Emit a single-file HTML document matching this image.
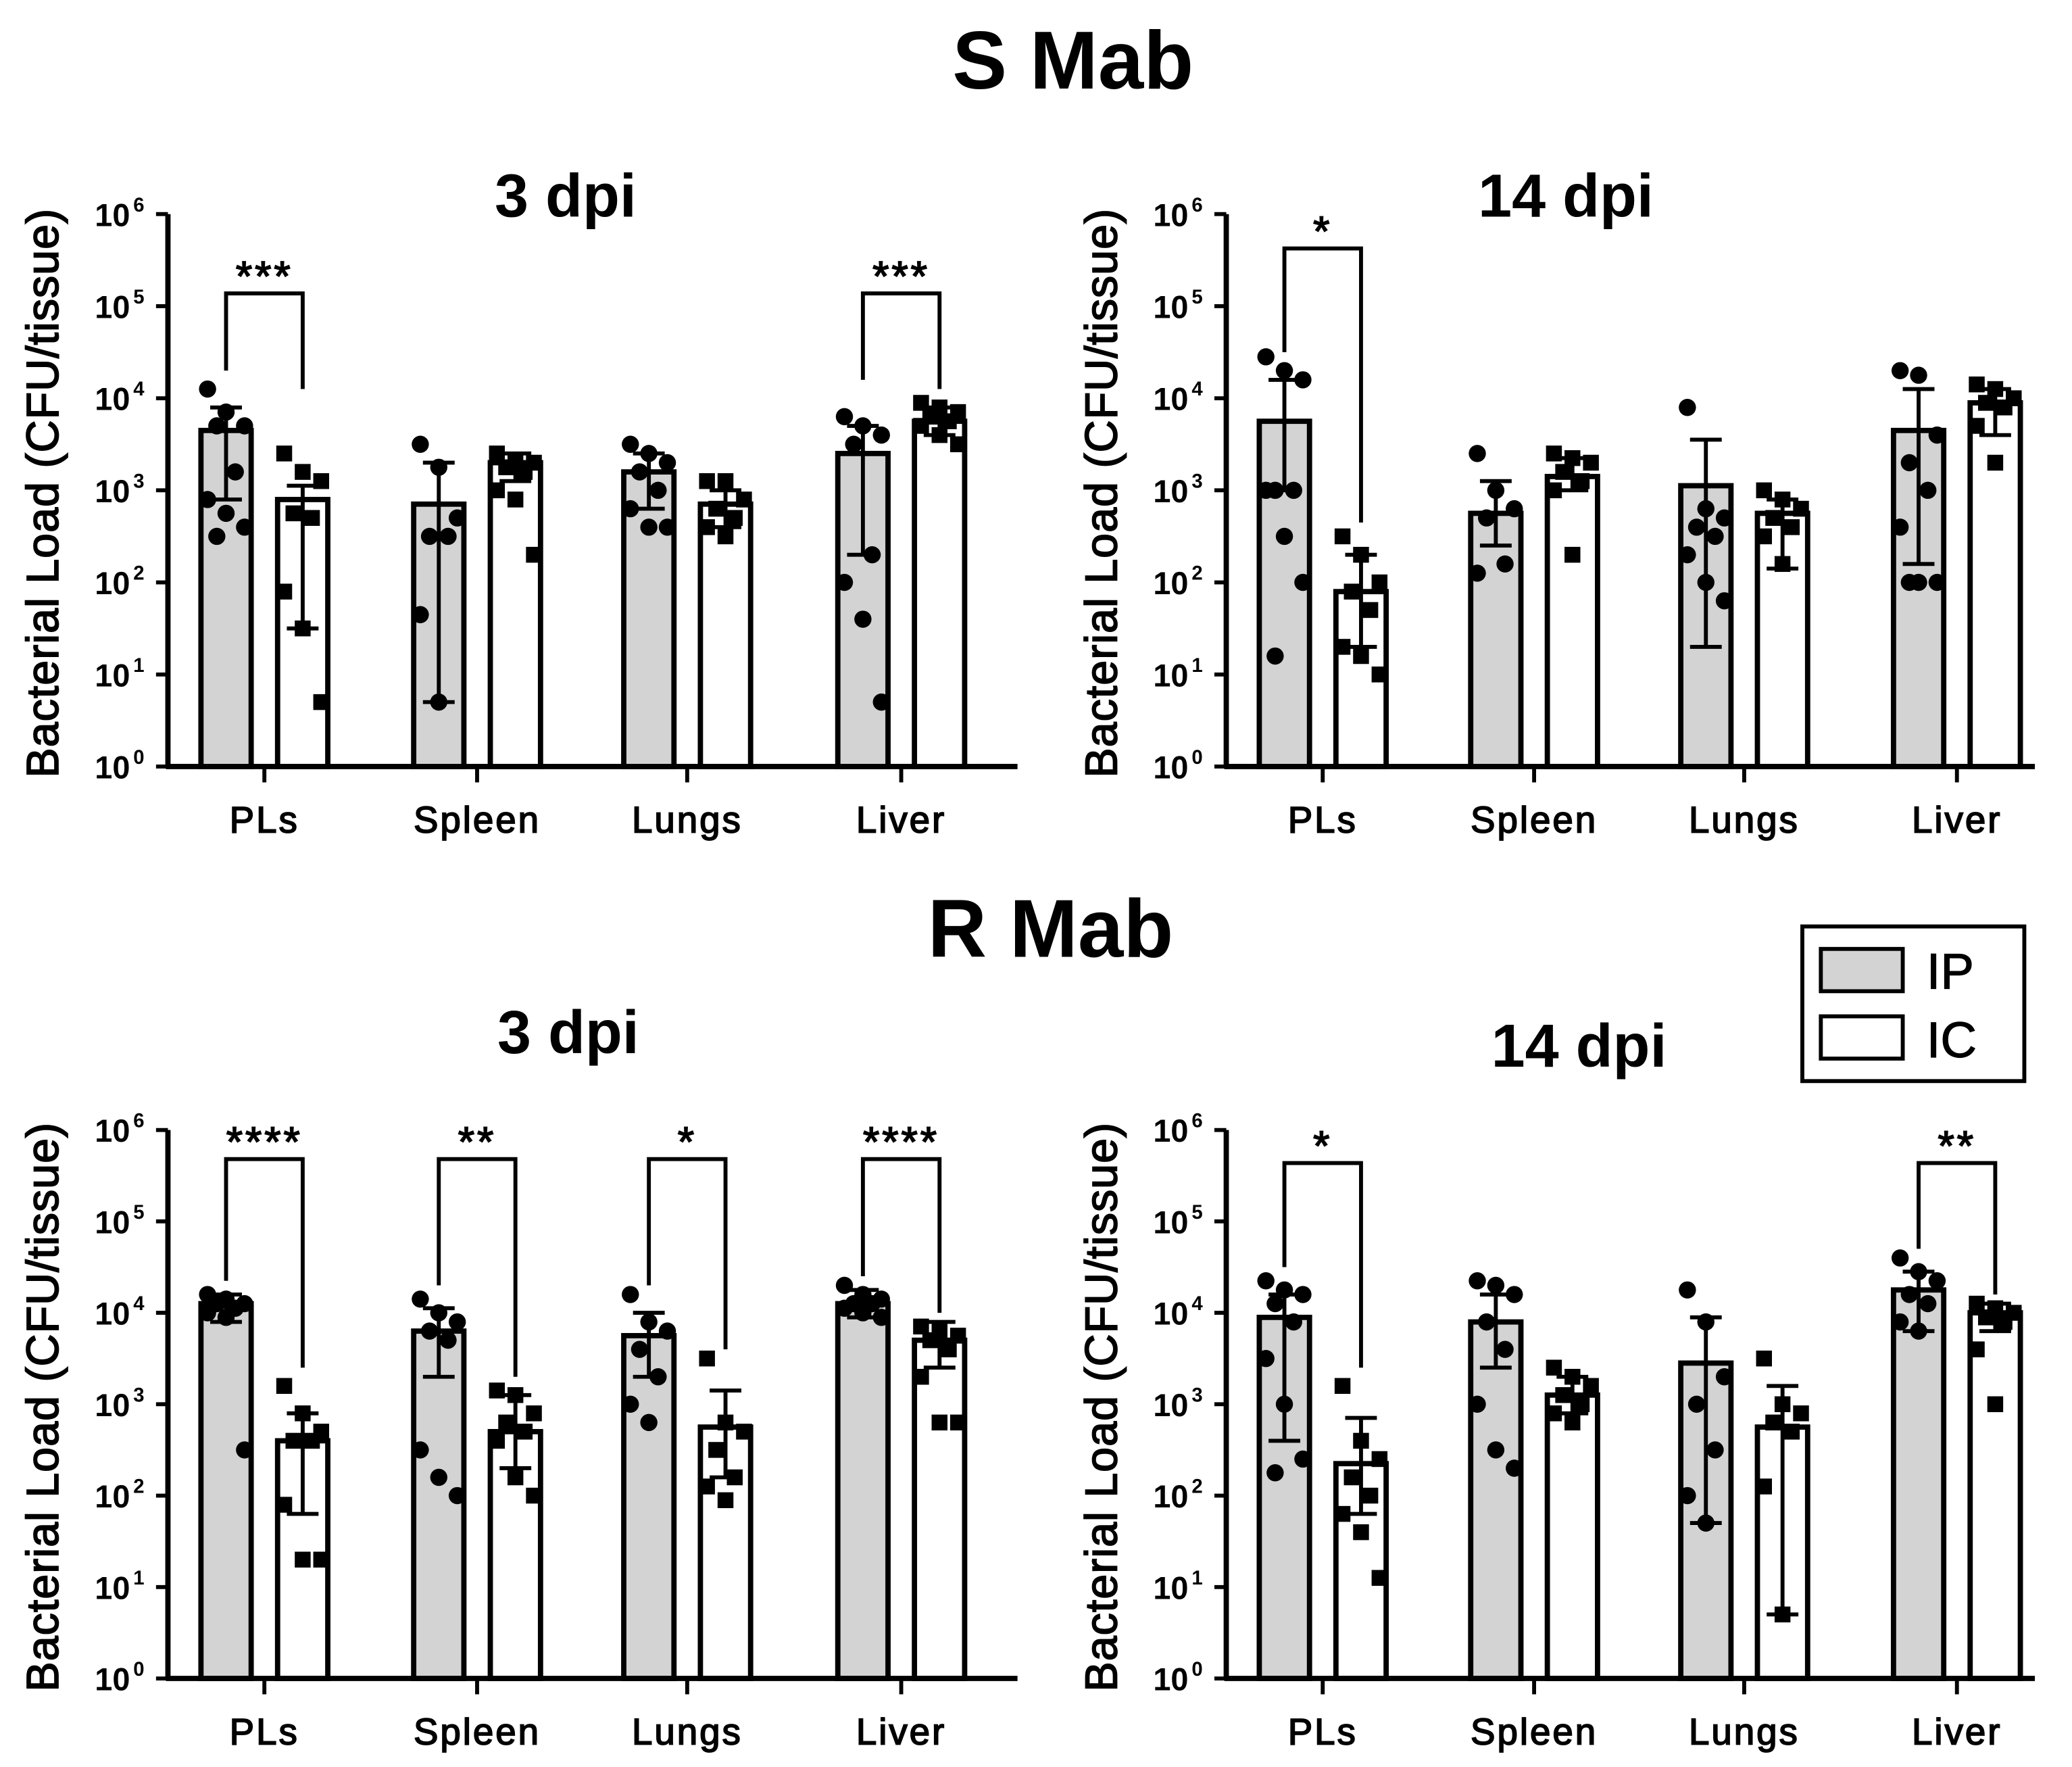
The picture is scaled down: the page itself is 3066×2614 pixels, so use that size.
<!DOCTYPE html>
<html><head><meta charset="utf-8"><style>
html,body{margin:0;padding:0;background:#fff;}
svg{display:block;}
text{font-family:"Liberation Sans",Arial,sans-serif;fill:#000;}
.h{stroke:#000;stroke-width:0.9;}
</style></head><body>
<svg id="s" width="3066" height="2614" viewBox="0 0 1568 1337" xmlns="http://www.w3.org/2000/svg">
<rect width="1568" height="1337" fill="#fff"/>
<text x="812" y="67" font-size="62" font-weight="bold" text-anchor="middle">S Mab</text>
<text x="795" y="724" font-size="62" font-weight="bold" text-anchor="middle">R Mab</text>
<rect x="1364" y="701" width="168" height="117" fill="#fff" stroke="#000" stroke-width="3"/>
<rect x="1378" y="718" width="62" height="32" fill="#d3d3d3" stroke="#000" stroke-width="3"/>
<rect x="1378" y="769" width="62" height="32" fill="#fff" stroke="#000" stroke-width="3"/>
<text x="1458" y="748" font-size="38" class="h" style="stroke-width:0.6">IP</text>
<text x="1458" y="800" font-size="38" class="h" style="stroke-width:0.6">IC</text>
</svg>
<script>
const S=document.getElementById('s');const NS='http://www.w3.org/2000/svg';
function el(t,a,txt){const e=document.createElementNS(NS,t);for(const k in a)e.setAttribute(k,a[k]);if(txt!==undefined)e.textContent=txt;S.appendChild(e);return e;}
function panel(P){
 const y0=P.y0,y6=P.y6,ax=P.ax,d=(y0-y6)/6;const Y=v=>y0-v*d;
 el('text',{x:P.tx,y:P.ty,'font-size':46,'font-weight':'bold','text-anchor':'middle'},P.title);
 const ly=(y0+y6)/2+2;
 el('text',{x:0,y:0,'font-size':34,'text-anchor':'middle',class:'h','letter-spacing':'0.5',transform:`translate(${P.lx},${ly}) rotate(-90)`},'Bacterial Load (CFU/tissue)');
 for(let i=0;i<=6;i++){const y=Y(i);el('line',{x1:ax-9,x2:ax,y1:y,y2:y,stroke:'#000','stroke-width':3});
  el('text',{x:ax-42,y:y+9,'font-size':24,'font-weight':'bold','text-anchor':'middle'},'10');
  el('text',{x:ax-22,y:y-2,'font-size':15,'font-weight':'bold','text-anchor':'middle'},String(i));}
 const names=['PLs','Spleen','Lungs','Liver'];
 P.groups.forEach((g,gi)=>{const cx=P.cx[gi];
  el('line',{x1:cx,x2:cx,y1:y0,y2:y0+12,stroke:'#000','stroke-width':3});
  el('text',{x:cx,y:y0+50,'font-size':28,'text-anchor':'middle','letter-spacing':'1.5',class:'h'},names[gi]);
  [[g[0],-29,'#d3d3d3',0],[g[1],29,'#fff',1]].forEach(([b,off,fill,sq])=>{const bx=cx+off;
   el('rect',{x:bx-19,y:Y(b[0]),width:38,height:y0-Y(b[0]),fill:fill,stroke:'#000','stroke-width':4});
   el('line',{x1:bx,x2:bx,y1:Y(b[1]),y2:Y(b[2]),stroke:'#000','stroke-width':3});
   [b[1],b[2]].forEach(v=>el('line',{x1:bx-12,x2:bx+12,y1:Y(v),y2:Y(v),stroke:'#000','stroke-width':3}));
   const pts=b[3];pts.forEach((v,i)=>{const dx=((i*7)%5-2)*7;const px=bx+dx,py=Y(v);
    if(sq)el('rect',{x:px-6,y:py-6,width:12,height:12,fill:'#000'});else el('circle',{cx:px,cy:py,r:6.5,fill:'#000'});});
  });
  const s=P.sig[gi];if(s){const by=s[1];const l=cx-29,r=cx+29;
   el('polyline',{points:`${l},${Y(s[2])} ${l},${by} ${r},${by} ${r},${Y(s[3])}`,fill:'none',stroke:'#000','stroke-width':3});
   el('text',{x:cx,y:by-2,'font-size':32,'text-anchor':'middle','letter-spacing':'2',class:'h'},s[0]);}
 });
 el('line',{x1:ax,x2:ax,y1:y6,y2:y0+1.5,stroke:'#000','stroke-width':4});
 el('line',{x1:ax-1.5,x2:P.axe,y1:y0,y2:y0,stroke:'#000','stroke-width':4});
}
panel({title:'3 dpi',tx:428,ty:164,lx:44,y0:580,y6:162,ax:127,axe:770,cx:[200,361,520,682],
 groups:[
 [[3.65,2.9,3.9,[4.1,3.85,3.7,3.7,3.2,2.9,2.75,2.6,2.5]],[2.9,1.5,3.05,[3.4,3.2,3.1,2.75,2.7,1.9,1.5,0.7]]],
 [[2.85,0.7,3.3,[3.5,3.25,2.7,2.5,2.5,1.65,0.7]],[3.3,3.1,3.4,[3.4,3.3,3.3,3.25,3.2,3.0,2.9,2.3]]],
 [[3.2,2.8,3.4,[3.5,3.4,3.3,3.2,3.0,2.8,2.6,2.6]],[2.85,2.6,3.0,[3.1,3.1,2.9,2.8,2.7,2.6,2.5]]],
 [[3.4,2.3,3.7,[3.8,3.7,3.6,3.5,2.3,2.0,1.6,0.7]],[3.75,3.6,3.9,[3.95,3.9,3.85,3.8,3.75,3.7,3.6,3.5]]]],
 sig:[['***',222,4.3,4.1],null,null,['***',222,4.2,4.1]]});
panel({title:'14 dpi',tx:1185,ty:164,lx:845,y0:580,y6:162,ax:928,axe:1540,cx:[1001,1161,1320,1481],
 groups:[
 [[3.75,3.0,4.2,[4.45,4.3,4.2,3.0,3.0,3.0,2.5,2.0,1.2]],[1.9,1.3,2.3,[2.5,2.3,2.0,1.9,1.7,1.3,1.2,1.0]]],
 [[2.75,2.4,3.1,[3.4,3.0,2.8,2.7,2.2,2.1]],[3.15,3.0,3.35,[3.4,3.35,3.3,3.2,3.1,3.0,2.3]]],
 [[3.05,1.3,3.55,[3.9,2.8,2.7,2.6,2.5,2.3,2.0,1.8]],[2.75,2.15,2.9,[3.0,2.9,2.8,2.7,2.6,2.5,2.2]]],
 [[3.65,2.2,4.1,[4.3,4.25,3.6,3.3,3.0,2.6,2.0,2.0,2.0]],[3.95,3.6,4.1,[4.15,4.1,4.0,3.95,3.9,3.7,3.3]]]],
 sig:[['*',188,4.5,2.65],null,null,null]});
panel({title:'3 dpi',tx:430,ty:797,lx:44,y0:1270,y6:855,ax:127,axe:770,cx:[200,361,520,682],
 groups:[
 [[4.1,3.9,4.2,[4.2,4.15,4.1,4.1,4.05,4.0,3.95,2.5]],[2.6,1.8,2.9,[3.2,2.9,2.7,2.6,2.6,1.9,1.3,1.3]]],
 [[3.8,3.3,4.05,[4.15,4.0,3.9,3.8,3.7,2.5,2.2,2.0]],[2.7,2.3,3.1,[3.15,3.1,2.9,2.8,2.7,2.6,2.2,2.0]]],
 [[3.75,3.3,4.0,[4.2,3.9,3.8,3.6,3.3,3.0,2.8]],[2.75,2.2,3.15,[3.5,2.8,2.7,2.5,2.2,2.1,1.95]]],
 [[4.1,3.95,4.25,[4.3,4.2,4.15,4.1,4.1,4.05,4.0,3.95]],[3.7,3.4,3.9,[3.85,3.8,3.75,3.7,3.6,3.3,2.8,2.8]]]],
 sig:[['****',877,4.35,3.4],['**',877,4.3,3.3],['*',877,4.3,3.6],['****',877,4.4,4.0]]});
panel({title:'14 dpi',tx:1195,ty:807,lx:845,y0:1270,y6:855,ax:928,axe:1540,cx:[1001,1161,1320,1481],
 groups:[
 [[3.95,2.6,4.2,[4.35,4.25,4.2,4.1,3.9,3.5,3.0,2.4,2.25]],[2.35,1.8,2.85,[3.2,2.6,2.4,2.2,2.0,1.8,1.6,1.1]]],
 [[3.9,3.4,4.2,[4.35,4.3,4.2,3.9,3.6,3.0,2.5,2.3]],[3.1,2.9,3.3,[3.4,3.3,3.2,3.1,3.0,2.9,2.8]]],
 [[3.45,1.7,3.95,[4.25,3.9,3.3,3.0,2.5,2.0,1.7]],[2.75,0.7,3.2,[3.5,3.0,2.9,2.8,2.7,2.1,0.7]]],
 [[4.25,3.8,4.45,[4.6,4.45,4.35,4.2,4.1,3.9,3.8]],[4.0,3.8,4.1,[4.1,4.05,4.0,3.95,3.9,3.6,3.0]]]],
 sig:[['*',880,4.5,3.4],null,null,['**',880,4.7,4.2]]});
</script>
</body></html>
